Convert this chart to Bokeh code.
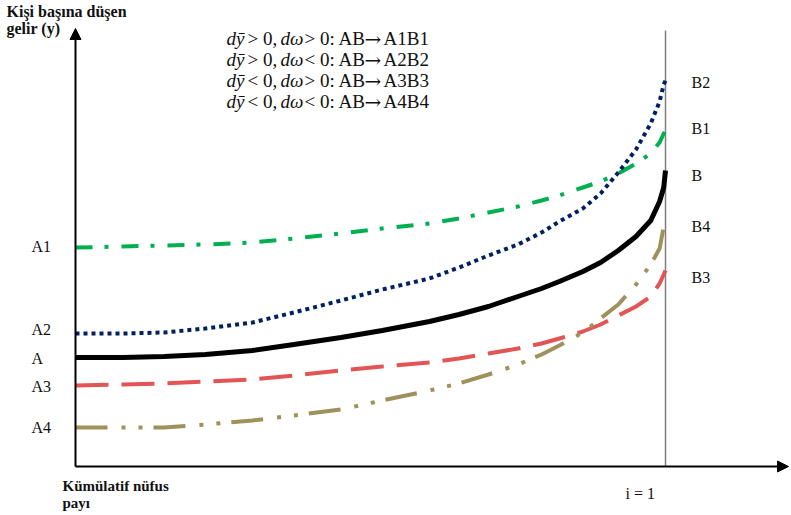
from bokeh.plotting import figure
from bokeh.models import Arrow, NormalHead, Label, Range1d
from bokeh.embed import file_html
from bokeh.resources import INLINE

# ---- data (x: cumulative population share, y: per-capita income, arbitrary units)
x_share = [0, 0.08, 0.15, 0.22, 0.3, 0.37, 0.45, 0.52, 0.6, 0.65, 0.7, 0.75,
           0.79, 0.82, 0.86, 0.89, 0.92, 0.95, 0.975, 0.99, 0.997, 1.0]
y_AB   = [109, 109, 110, 112, 116, 122, 129, 136, 145, 152, 160, 170,
          178, 185, 195, 204, 216, 230, 246, 265, 279, 296]
y_A1B1 = [219, 220, 221, 222, 224, 228, 233, 238, 243, 248, 254, 260,
          266, 271, 279, 285, 293, 303, 313, 324, 333, 336]
y_A2B2 = [133, 133, 134, 138, 144, 154, 166, 177, 188, 199, 211, 222,
          234, 245, 258, 273, 294, 317, 343, 365, 382, 386]
y_A3B3 = [81, 82, 83, 85, 87, 91, 96, 100, 104, 108, 113, 118,
          123, 128, 135, 142, 151, 160, 170, 183, 192, 196]
y_A4B4 = [39, 39, 39, 42, 46, 51, 57, 66, 76, 83, 92, 102,
          112, 121, 134, 148, 162, 182, 202, 218, 240, 250]

left_labels = ["A1", "A2", "A", "A3", "A4"]
right_labels = ["B2", "B1", "B", "B4", "B3"]
legend_rows = [(">", ">", "A1B1"), (">", "<", "A2B2"), ("<", ">", "A3B3"), ("<", "<", "A4B4")]

SERIF = "Liberation Serif"

# page pixel -> data helpers (for annotation placement only)
def px(xi):
    return (xi - 75) / 590.0

def py(yi):
    return 466 - yi

W, H = 790, 514
p = figure(width=W, height=H, output_backend="svg", toolbar_location=None,
           x_range=Range1d(px(0), px(W)), y_range=Range1d(py(H), py(0)),
           min_border=0)
p.axis.visible = False
p.grid.visible = False
p.outline_line_color = None
p.background_fill_color = "white"
p.border_fill_color = "white"

# axes with arrows
p.add_layout(Arrow(end=NormalHead(size=11, fill_color="black", line_color="black"),
                   x_start=0, y_start=0, x_end=0, y_end=py(28),
                   line_width=2, line_color="black"))
p.add_layout(Arrow(end=NormalHead(size=11, fill_color="black", line_color="black"),
                   x_start=0, y_start=0, x_end=px(788), y_end=0,
                   line_width=2, line_color="black"))
# vertical line at i = 1
p.line([1, 1], [0, py(30)], line_color="#808080", line_width=1.5)

# curves
p.line(x_share, y_A1B1, line_color="#00b050", line_width=4, line_dash="17 12 4 13")
p.line(x_share, y_A2B2, line_color="#002060", line_width=4, line_dash="4 4")
p.line(x_share, y_A3B3, line_color="#e35454", line_width=4, line_dash="33 13")
p.line(x_share, y_A4B4, line_color="#a0905a", line_width=4, line_dash="32 14 4 13 4 11")
p.line(x_share, y_AB, line_color="black", line_width=5)

def lab(x, y, text, size="16px", style="normal", align="left", color="#111111", font=SERIF):
    p.add_layout(Label(x=x, y=y, text=text, text_font=font, text_font_size=size,
                       text_font_style=style, text_align=align,
                       text_baseline="middle", text_color=color))

# left labels
for t, yi in zip(left_labels, [246, 329, 358, 386, 427]):
    lab(px(31), py(yi), t)
# right labels
for t, yi in zip(right_labels, [82, 128, 175, 226, 277]):
    lab(px(691), py(yi), t)

# axis titles
lab(px(6), py(11), "Kişi başına düşen", size="16px", style="bold")
lab(px(6), py(28), "gelir (y)", size="16px", style="bold")
lab(px(62), py(485), "Kümülatif nüfus", size="15px", style="bold")
lab(px(62), py(502), "payı", size="15px", style="bold")
lab(px(625), py(493), "i = 1", size="16px")

# legend text
for k, (s1, s2, tgt) in enumerate(legend_rows):
    yi = 38 + 21 * k
    lab(px(226), py(yi), "dȳ", size="19px", style="italic")
    lab(px(247), py(yi), s1 + " 0,", size="19px")
    lab(px(280), py(yi), "dω", size="19px", style="italic")
    lab(px(304), py(yi), s2 + " 0: AB", size="19px")
    lab(px(364), py(yi), "→", size="20px", font="DejaVu Serif")
    lab(px(383), py(yi), tgt, size="19px")

open("out.html", "w").write(file_html(p, INLINE))
